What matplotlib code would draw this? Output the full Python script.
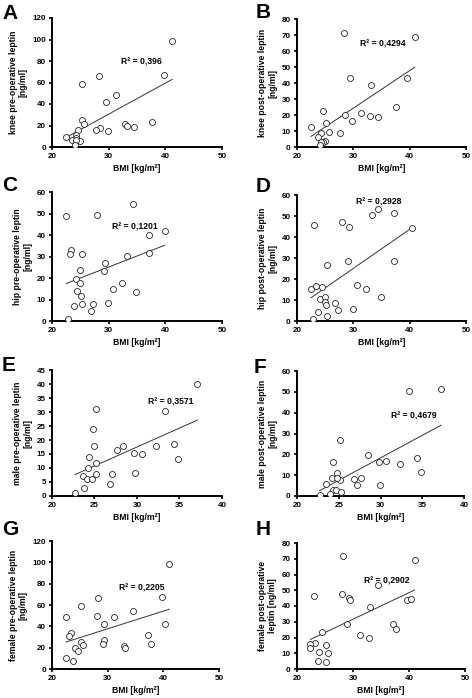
import numpy as np
import matplotlib
matplotlib.use("Agg")
import matplotlib.pyplot as plt

plt.rcParams['font.family'] = ['Liberation Sans', 'DejaVu Sans']
plt.rcParams['font.weight'] = 'bold'

W, H = 472, 698

# ---------------- data ----------------
a_x = [41.2, 39.7, 28.35, 25.3, 31.3, 29.5, 25.3, 25.6, 32.9, 33.2, 34.5, 37.7, 28.5, 27.8, 29.8,
       24.6, 22.5, 24.3, 24.2, 23.5, 25.0, 24.3, 24.0]
a_y = [98.5, 67.3, 66.4, 58.6, 48.3, 41.5, 24.9, 21.5, 21.2, 20.0, 18.7, 23.4, 18.0, 16.2, 15.3,
       15.6, 9.0, 10.9, 8.4, 6.9, 5.9, 6.2, 2.2]

b_x = [28.3, 40.9, 29.4, 39.6, 33.2, 37.6, 24.6, 22.5, 25.2, 28.5, 31.3, 32.9, 34.4, 29.8, 25.6,
       27.7, 24.3, 23.7, 25.0, 24.6, 24.3, 24.0]
b_y = [71.4, 68.5, 43.4, 43.4, 39.0, 24.7, 22.6, 12.8, 14.7, 19.7, 21.2, 19.5, 18.6, 16.3, 9.6,
       8.8, 8.8, 6.1, 4.0, 3.4, 3.4, 1.0]

c_x = [22.5, 28.0, 34.3, 39.9, 37.1, 37.1, 33.2, 23.4, 23.1, 25.3, 29.3, 29.1, 24.9, 24.2, 24.9,
       32.3, 30.7, 24.4, 34.8, 25.2, 25.3, 27.2, 29.8, 23.8, 26.8, 22.8]
c_y = [48.9, 49.4, 54.2, 41.8, 39.9, 31.6, 30.2, 33.0, 31.0, 31.0, 27.1, 23.1, 23.8, 19.5, 17.8,
       17.8, 15.1, 13.9, 13.6, 11.8, 7.9, 7.9, 8.3, 6.9, 4.5, 1.1]

d_x = [23.1, 28.0, 29.3, 33.4, 34.4, 37.2, 40.4, 37.2, 29.1, 25.3, 30.7, 32.2, 34.9, 22.5, 23.4,
       24.4, 24.1, 24.9, 24.9, 25.2, 26.8, 27.2, 29.9, 23.8, 25.3, 22.8]
d_y = [45.9, 47.0, 44.6, 50.5, 53.2, 51.3, 44.1, 28.6, 28.4, 26.8, 17.0, 15.2, 11.6, 15.1, 16.7,
       16.3, 10.6, 11.3, 8.9, 7.8, 8.4, 5.4, 5.6, 4.3, 2.2, 0.8]

e_x = [37.1, 33.3, 25.2, 24.8, 24.9, 24.3, 25.2, 24.2, 23.6, 24.1, 24.7, 25.2, 23.8, 22.7, 26.8,
       27.1, 27.65, 28.4, 29.7, 30.6, 29.8, 32.2, 34.3, 34.8]
e_y = [39.9, 30.2, 31.1, 23.9, 17.7, 13.8, 11.9, 10.1, 7.1, 6.0, 6.2, 7.9, 3.0, 1.0, 4.3,
       7.9, 16.5, 18.0, 15.5, 15.0, 8.2, 17.7, 18.7, 13.3]

f_x = [33.4, 37.25, 25.2, 28.45, 30.7, 29.8, 32.3, 34.4, 34.9, 24.3, 24.8, 27.7, 26.8, 27.2, 29.9,
       23.5, 24.2, 25.1, 24.8, 24.3, 24.7, 25.3, 23.9, 22.7]
f_y = [50.4, 51.3, 26.8, 19.9, 17.0, 16.2, 15.2, 18.4, 11.6, 16.2, 11.1, 8.5, 8.3, 5.3, 5.5,
       5.8, 8.5, 7.9, 8.7, 3.0, 3.0, 1.9, 1.0, 0.6]

g_x = [41.05, 39.7, 28.35, 25.2, 34.5, 28.0, 31.2, 22.5, 29.4, 40.3, 37.2, 37.7, 23.4, 23.1, 25.2,
       29.3, 29.1, 25.5, 32.9, 33.2, 24.1, 24.6, 22.5, 23.8]
g_y = [98.1, 67.5, 66.9, 59.0, 54.4, 49.7, 48.8, 49.1, 41.9, 41.9, 31.9, 23.8, 33.4, 30.5, 25.6,
       27.5, 23.1, 22.5, 21.9, 20.0, 19.7, 16.6, 10.0, 7.2]

h_x = [28.3, 41.0, 28.0, 23.0, 29.3, 29.4, 34.4, 39.7, 40.4, 33.1, 29.0, 37.2, 37.6, 24.5, 31.2,
       32.9, 23.2, 22.4, 22.4, 25.2, 24.0, 25.5, 23.7, 25.2]
h_y = [71.8, 69.1, 47.4, 46.3, 44.8, 43.6, 53.3, 44.0, 44.4, 39.4, 28.6, 28.8, 25.1, 23.2, 21.5,
       19.8, 16.8, 15.8, 13.5, 15.2, 10.9, 10.3, 4.8, 4.2]

panel_letters = ["A", "B", "C", "D", "E", "F", "G", "H"]
ylabels = ["knee pre-operative leptin\n[ng/ml]",
           "knee post-operative leptin\n[ng/ml]",
           "hip pre-operative leptin\n[ng/ml]",
           "hip post-operative leptin\n[ng/ml]",
           "male pre-operative leptin\n[ng/ml]",
           "male post-operative leptin\n[ng/ml]",
           "female pre-operative leptin\n[ng/ml]",
           "female post-operative\nleptin [ng/ml]"]
r2_texts = ["R² = 0,396", "R² = 0,4294", "R² = 0,1201", "R² = 0,2928",
            "R² = 0,3571", "R² = 0,4679", "R² = 0,2205", "R² = 0,2902"]
x_ticks = [[20, 30, 40, 50]] * 4 + [[20, 25, 30, 35, 40]] * 2 + [[20, 30, 40, 50]] * 2
y_ticks = [list(range(0, 121, 20)), list(range(0, 81, 10)),
           list(range(0, 61, 10)), list(range(0, 61, 10)),
           list(range(0, 46, 5)), list(range(0, 61, 10)),
           list(range(0, 121, 20)), list(range(0, 81, 10))]
xs = [a_x, b_x, c_x, d_x, e_x, f_x, g_x, h_x]
ys = [a_y, b_y, c_y, d_y, e_y, f_y, g_y, h_y]

# ---------------- layout (pixels: left, right, top, bottom) ----------------
boxes = [(52, 222, 18, 147), (297, 466, 19, 147),
         (52, 222, 192, 321), (297, 466, 195, 321),
         (52, 222, 370, 496), (297, 464, 371, 496),
         (52, 219, 541, 669), (297, 465, 543, 669)]
r2_pos = [(32.2, 79), (31.2, 64.4), (30.6, 43.7), (30.5, 56.7),
          (31.3, 33.6), (31.3, 38.4), (32.0, 76), (32.0, 55.9)]
letter_pos = [(2, 4), (256, 3), (2, 176), (256, 177), (2, 356), (254, 358), (2, 520), (256, 520)]

fig = plt.figure(figsize=(W / 100, H / 100), dpi=100)

for i in range(8):
    l, r, t, b = boxes[i]
    ax = fig.add_axes([l / W, 1 - b / H, (r - l) / W, (b - t) / H])
    x = np.array(xs[i]); y = np.array(ys[i])
    ax.plot(x, y, 'o', ms=4.3, mfc='white', mec='#222222', mew=0.6, zorder=3)
    k, c0 = np.polyfit(x, y, 1)
    xx = np.array([x.min(), x.max()])
    ax.plot(xx, k * xx + c0, '-', color='#333333', lw=0.7, zorder=2)
    ax.set_xlim(x_ticks[i][0], x_ticks[i][-1])
    ax.set_ylim(y_ticks[i][0], y_ticks[i][-1])
    ax.set_xticks(x_ticks[i]); ax.set_yticks(y_ticks[i])
    for s in ['top', 'right']:
        ax.spines[s].set_visible(False)
    for s in ['left', 'bottom']:
        ax.spines[s].set_linewidth(1.4)
    ax.spines['left'].set_bounds(y_ticks[i][0], y_ticks[i][-1])
    ax.tick_params(direction='out', length=2.5, width=1.2, labelsize=5.8, pad=2)
    for lab in ax.get_xticklabels() + ax.get_yticklabels():
        lab.set_fontweight('bold')
    ax.set_xlabel("BMI [kg/m²]", fontsize=6.2, fontweight='bold', labelpad=3)
    ax.set_ylabel(ylabels[i], fontsize=6.2, fontweight='bold', labelpad=3, linespacing=1.15)
    ax.text(r2_pos[i][0], r2_pos[i][1], r2_texts[i], fontsize=6.2, fontweight='bold',
            ha='left', va='center')
    ax.patch.set_alpha(0)
    lx, ly = letter_pos[i]
    fig.text(lx / W, 1 - ly / H, panel_letters[i], fontsize=15, fontweight='bold',
             ha='left', va='top')

fig.savefig("out.png", dpi=100)
